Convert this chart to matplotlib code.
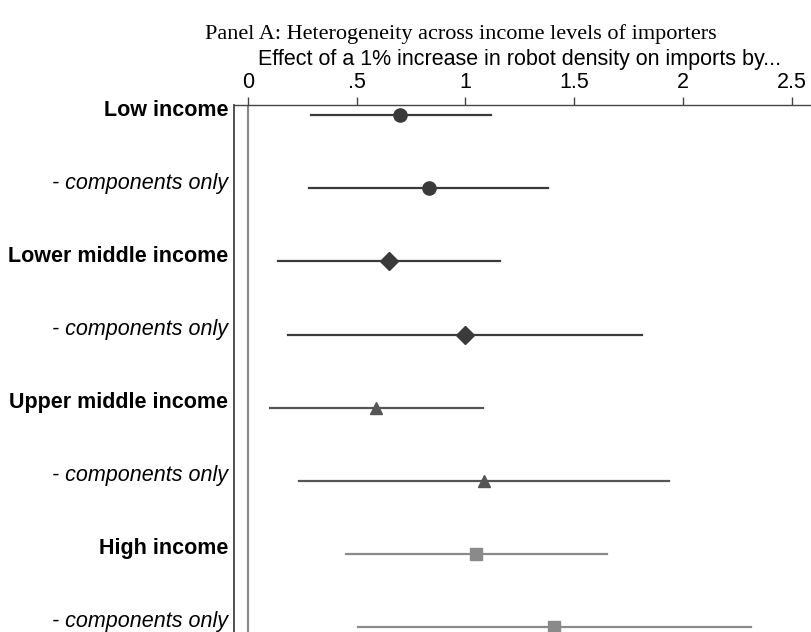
import matplotlib.pyplot as plt
import matplotlib.transforms as mtransforms
import numpy as np

labels = ['Low income', '- components only',
          'Lower middle income', '- components only',
          'Upper middle income', '- components only',
          'High income', '- components only']
estimates = [0.70, 0.83, 0.65, 1.00, 0.59, 1.085, 1.05, 1.405]
ci_low = [0.29, 0.28, 0.14, 0.185, 0.10, 0.235, 0.45, 0.505]
ci_high = [1.115, 1.38, 1.16, 1.81, 1.08, 1.935, 1.65, 2.31]
markers = ['o', 'o', 'D', 'D', '^', '^', 's', 's']
colors = ['#3a3a3a', '#3a3a3a', '#3a3a3a', '#3a3a3a',
          '#555555', '#555555', '#8a8a8a', '#8a8a8a']
msizes = [9.5, 9.5, 9, 9, 9, 9, 8.5, 8.5]
xticks = [0, 0.5, 1, 1.5, 2, 2.5]
xticklabels = ['0', '.5', '1', '1.5', '2', '2.5']

plt.rcParams['font.family'] = ['Liberation Sans', 'DejaVu Sans']

W, H = 811, 632
fig = plt.figure(figsize=(W / 100, H / 100), dpi=100)
top_px = 105
ax = fig.add_axes([234 / W, 0, 1 - 234 / W, 1 - top_px / H])

ax.axvline(0, color='#8a8a8a', lw=1.6, zorder=1)
y = np.arange(len(labels))
for i in range(len(labels)):
    ax.plot([ci_low[i], ci_high[i]], [y[i], y[i]], color=colors[i], lw=1.6, zorder=2)
    ax.plot(estimates[i], y[i], marker=markers[i], color=colors[i],
            markersize=msizes[i], linestyle='none', zorder=3)

ax.set_xlim(-0.064, 2.588)
ax.set_ylim(7.07, -0.14)

ax.xaxis.tick_top()
ax.set_xticks(xticks)
ax.set_xticklabels(xticklabels, fontsize=15.5)
ax.tick_params(axis='x', direction='out', length=6, width=1, color='#444444', pad=3)

# axis title sits above the tick labels
ax_h = H - top_px
ax.text((520 - 234) / (W - 234), 1 + (top_px - 59) / ax_h,
        'Effect of a 1% increase in robot density on imports by...',
        transform=ax.transAxes, ha='center', va='center', fontsize=15.5)

ax.set_yticks(y)
ax.set_yticklabels(labels, fontsize=15.5)
ax.tick_params(axis='y', length=0, pad=4)
shift = mtransforms.ScaledTranslation(0, 7.5 / 100, fig.dpi_scale_trans)
for i, t in enumerate(ax.get_yticklabels()):
    t.set_transform(t.get_transform() + shift)
    if i % 2 == 0:
        t.set_fontweight('bold')
    else:
        t.set_fontstyle('italic')

ax.spines['right'].set_visible(False)
ax.spines['bottom'].set_visible(False)
ax.spines['left'].set_color('#444444')
ax.spines['top'].set_color('#444444')
ax.spines['left'].set_linewidth(1.3)
ax.spines['top'].set_linewidth(1.0)

fig.text(461 / W, 1 - 34 / H, 'Panel A: Heterogeneity across income levels of importers',
         ha='center', va='center', fontsize=16, family='Liberation Serif')

fig.savefig('out.png', dpi=100)
